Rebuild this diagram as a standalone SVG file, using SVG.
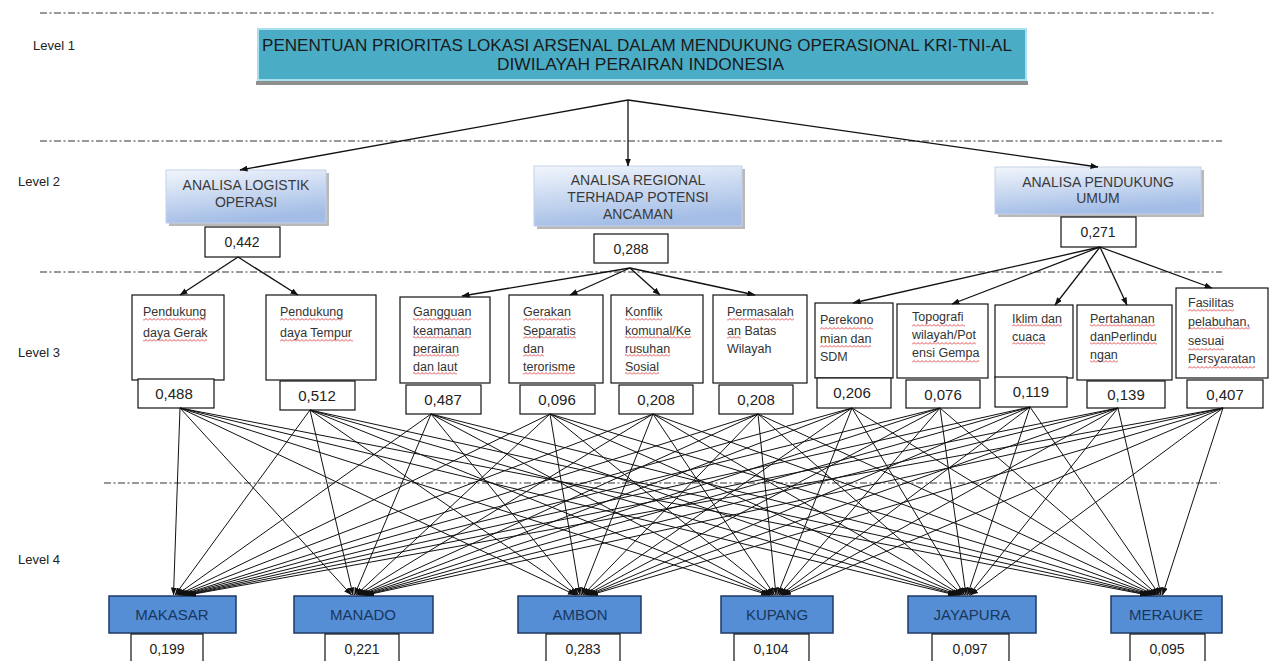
<svg xmlns="http://www.w3.org/2000/svg" width="1275" height="661" viewBox="0 0 1275 661">
<style>
.bg{fill:#ffffff}
.dash{stroke:#333;stroke-width:1;stroke-dasharray:7 2.5 2 2.5;fill:none}
.lvl{font-family:"Liberation Sans",Arial,sans-serif;font-size:13px;fill:#222}
.top{font-family:"Liberation Sans",Arial,sans-serif;font-size:16.5px;fill:#1a1a1a}
.l2box{fill:url(#g2);stroke:#c3d2ea;stroke-width:1}
.l2sh{fill:#b9b9b9}
.l2t{font-family:"Liberation Sans",Arial,sans-serif;font-size:14px;fill:#3a3a3a;text-anchor:middle}
.vbox{fill:#fff;stroke:#111;stroke-width:1.2}
.vt{font-family:"Liberation Sans",Arial,sans-serif;font-size:15px;fill:#222;text-anchor:middle}
.l3box{fill:#fff;stroke:#111;stroke-width:1.2}
.l3t{font-family:"Liberation Sans",Arial,sans-serif;font-size:12.5px;fill:#333}
.sq{fill:url(#sqp)}
.l4box{fill:#558ed5;stroke:#1f3864;stroke-width:1.5}
.l4t{font-family:"Liberation Sans",Arial,sans-serif;font-size:15px;fill:#17375e;text-anchor:middle}
.l4v{font-family:"Liberation Sans",Arial,sans-serif;font-size:14px;fill:#222;text-anchor:middle}
.c{stroke:#111;stroke-width:1;fill:none;marker-end:url(#ah)}
.c2{stroke:#111;stroke-width:1.3;fill:none;marker-end:url(#ah)}
</style>
<defs>
<linearGradient id="g2" x1="0" y1="0" x2="0.3" y2="1">
<stop offset="0" stop-color="#f2f6fc"/>
<stop offset="1" stop-color="#a3bde6"/>
</linearGradient>
<pattern id="sqp" width="4" height="3" patternUnits="userSpaceOnUse">
<path d="M0,2.5 L2,0.5 L4,2.5" fill="none" stroke="#d22" stroke-width="0.8"/>
</pattern>
<marker id="ah" markerWidth="8" markerHeight="6" refX="7.5" refY="3" orient="auto" markerUnits="userSpaceOnUse">
<path d="M0,0 L8,3 L0,6 z" fill="#111"/>
</marker>
</defs>
<rect class="bg" x="0" y="0" width="1275" height="661"/>

<g id="dividers">
<line class="dash" x1="40" y1="13" x2="1215" y2="13"/>
<line class="dash" x1="40" y1="141" x2="1222" y2="141"/>
<line class="dash" x1="40" y1="272" x2="1222" y2="272"/>
<line class="dash" x1="104" y1="483" x2="1220" y2="483"/>
</g>

<g id="level-labels">
<text class="lvl" x="33" y="50">Level 1</text>
<text class="lvl" x="18" y="186">Level 2</text>
<text class="lvl" x="18" y="357">Level 3</text>
<text class="lvl" x="18" y="564">Level 4</text>
</g>

<g id="goal">
<rect x="256" y="81" width="772" height="4" fill="#8f8f8f"/>
<rect x="258" y="29" width="768" height="51" fill="#4bacc6" stroke="#a9e0f0" stroke-width="2"/>
<text class="top" x="262" y="51" textLength="750" lengthAdjust="spacingAndGlyphs">PENENTUAN PRIORITAS LOKASI ARSENAL DALAM MENDUKUNG OPERASIONAL KRI-TNI-AL</text>
<text class="top" x="497" y="70" textLength="287" lengthAdjust="spacingAndGlyphs">DIWILAYAH PERAIRAN INDONESIA</text>
</g>

<g id="c-logistik">
<rect class="l2sh" x="169" y="173" width="160" height="53"/>
<rect class="l2box" x="166" y="170" width="160" height="53"/>
<text class="l2t" x="246" y="190">ANALISA LOGISTIK</text>
<text class="l2t" x="246" y="207">OPERASI</text>
<rect class="vbox" x="205" y="227" width="75" height="30"/>
<text class="vt" x="242" y="247" style="font-size:14px">0,442</text>
</g>

<g id="c-regional">
<rect class="l2sh" x="537" y="169" width="208" height="60"/>
<rect class="l2box" x="534" y="166" width="208" height="60"/>
<text class="l2t" x="638" y="185">ANALISA REGIONAL</text>
<text class="l2t" x="638" y="202">TERHADAP POTENSI</text>
<text class="l2t" x="638" y="219">ANCAMAN</text>
<rect class="vbox" x="594" y="234" width="74" height="29"/>
<text class="vt" x="631" y="254" style="font-size:14px">0,288</text>
</g>

<g id="c-pendukung">
<rect class="l2sh" x="998" y="170" width="206" height="47"/>
<rect class="l2box" x="995" y="167" width="206" height="47"/>
<text class="l2t" x="1098" y="187">ANALISA PENDUKUNG</text>
<text class="l2t" x="1098" y="203">UMUM</text>
<rect class="vbox" x="1061" y="217" width="75" height="30"/>
<text class="vt" x="1098" y="237" style="font-size:14px">0,271</text>
</g>

<g id="s1">
<rect class="l3box" x="132" y="295" width="92" height="85"/>
<rect class="sq" x="143" y="318" width="63" height="3"/>
<rect class="sq" x="143" y="339" width="64" height="3"/>
<text class="l3t" x="143" y="316">Pendukung</text>
<text class="l3t" x="143" y="337">daya Gerak</text>
<rect class="vbox" x="138" y="379" width="76" height="29"/>
<text class="vt" x="174" y="399">0,488</text>
</g>

<g id="s2">
<rect class="l3box" x="266" y="295" width="110" height="85"/>
<rect class="sq" x="280" y="318" width="63" height="3"/>
<rect class="sq" x="280" y="339" width="73" height="3"/>
<text class="l3t" x="280" y="316">Pendukung</text>
<text class="l3t" x="280" y="337">daya Tempur</text>
<rect class="vbox" x="280" y="381" width="75" height="29"/>
<text class="vt" x="317" y="401">0,512</text>
</g>

<g id="s3">
<rect class="l3box" x="400" y="297" width="90" height="86"/>
<rect class="sq" x="413" y="318" width="58" height="3"/>
<rect class="sq" x="413" y="336" width="58" height="3"/>
<rect class="sq" x="413" y="354" width="46" height="3"/>
<rect class="sq" x="413" y="372" width="44" height="3"/>
<text class="l3t" x="413" y="316">Gangguan</text>
<text class="l3t" x="413" y="335">keamanan</text>
<text class="l3t" x="413" y="353">perairan</text>
<text class="l3t" x="413" y="371">dan laut</text>
<rect class="vbox" x="406" y="385" width="75" height="29"/>
<text class="vt" x="443" y="405">0,487</text>
</g>

<g id="s4">
<rect class="l3box" x="509" y="295" width="94" height="88"/>
<rect class="sq" x="523" y="318" width="48" height="3"/>
<rect class="sq" x="523" y="336" width="53" height="3"/>
<rect class="sq" x="523" y="354" width="21" height="3"/>
<rect class="sq" x="523" y="372" width="52" height="3"/>
<text class="l3t" x="523" y="316">Gerakan</text>
<text class="l3t" x="523" y="335">Separatis</text>
<text class="l3t" x="523" y="353">dan</text>
<text class="l3t" x="523" y="371">terorisme</text>
<rect class="vbox" x="520" y="385" width="75" height="29"/>
<text class="vt" x="557" y="405">0,096</text>
</g>

<g id="s5">
<rect class="l3box" x="611" y="295" width="92" height="88"/>
<rect class="sq" x="625" y="318" width="37" height="3"/>
<rect class="sq" x="625" y="336" width="66" height="3"/>
<rect class="sq" x="625" y="354" width="45" height="3"/>
<rect class="sq" x="625" y="372" width="34" height="3"/>
<text class="l3t" x="625" y="316">Konflik</text>
<text class="l3t" x="625" y="335">komunal/Ke</text>
<text class="l3t" x="625" y="353">rusuhan</text>
<text class="l3t" x="625" y="371">Sosial</text>
<rect class="vbox" x="619" y="385" width="74" height="29"/>
<text class="vt" x="656" y="405">0,208</text>
</g>

<g id="s6">
<rect class="l3box" x="713" y="295" width="94" height="88"/>
<rect class="sq" x="727" y="318" width="67" height="3"/>
<rect class="sq" x="727" y="336" width="14" height="3"/>
<text class="l3t" x="727" y="316">Permasalah</text>
<text class="l3t" x="727" y="335">an Batas</text>
<text class="l3t" x="727" y="353">Wilayah</text>
<rect class="vbox" x="719" y="385" width="74" height="29"/>
<text class="vt" x="756" y="405">0,208</text>
</g>

<g id="s7">
<rect class="l3box" x="815" y="303" width="78" height="75"/>
<rect class="sq" x="820" y="327" width="53" height="3"/>
<rect class="sq" x="820" y="345" width="51" height="3"/>
<text class="l3t" x="820" y="324">Perekono</text>
<text class="l3t" x="820" y="343">mian dan</text>
<text class="l3t" x="820" y="361">SDM</text>
<rect class="vbox" x="817" y="378" width="74" height="30"/>
<text class="vt" x="852" y="398">0,206</text>
</g>

<g id="s8">
<rect class="l3box" x="897" y="304" width="91" height="74"/>
<rect class="sq" x="912" y="324" width="53" height="3"/>
<rect class="sq" x="912" y="342" width="64" height="3"/>
<rect class="sq" x="912" y="360" width="67" height="3"/>
<text class="l3t" x="912" y="321">Topografi</text>
<text class="l3t" x="912" y="339">wilayah/Pot</text>
<text class="l3t" x="912" y="357">ensi Gempa</text>
<rect class="vbox" x="906" y="380" width="74" height="28"/>
<text class="vt" x="943" y="400">0,076</text>
</g>

<g id="s9">
<rect class="l3box" x="995" y="305" width="78" height="73"/>
<rect class="sq" x="1012" y="324" width="50" height="3"/>
<rect class="sq" x="1012" y="342" width="33" height="3"/>
<text class="l3t" x="1012" y="323">Iklim dan</text>
<text class="l3t" x="1012" y="341">cuaca</text>
<rect class="vbox" x="995" y="377" width="72" height="30"/>
<text class="vt" x="1031" y="397">0,119</text>
</g>

<g id="s10">
<rect class="l3box" x="1077" y="305" width="95" height="75"/>
<rect class="sq" x="1090" y="324" width="65" height="3"/>
<rect class="sq" x="1090" y="342" width="67" height="3"/>
<rect class="sq" x="1090" y="360" width="28" height="3"/>
<text class="l3t" x="1090" y="323">Pertahanan</text>
<text class="l3t" x="1090" y="341">danPerlindu</text>
<text class="l3t" x="1090" y="359">ngan</text>
<rect class="vbox" x="1087" y="381" width="78" height="27"/>
<text class="vt" x="1126" y="400">0,139</text>
</g>

<g id="s11">
<rect class="l3box" x="1176" y="288" width="92" height="90"/>
<rect class="sq" x="1188" y="309" width="46" height="3"/>
<rect class="sq" x="1188" y="327" width="62" height="3"/>
<rect class="sq" x="1188" y="348" width="36" height="3"/>
<rect class="sq" x="1188" y="366" width="67" height="3"/>
<text class="l3t" x="1188" y="307">Fasilitas</text>
<text class="l3t" x="1188" y="326">pelabuhan,</text>
<text class="l3t" x="1188" y="345">sesuai</text>
<text class="l3t" x="1188" y="363">Persyaratan</text>
<rect class="vbox" x="1187" y="380" width="76" height="28"/>
<text class="vt" x="1225" y="400">0,407</text>
</g>

<g id="a-makasar">
<rect class="l4box" x="109" y="596" width="127" height="37"/>
<text class="l4t" x="172" y="620">MAKASAR</text>
<rect class="vbox" x="131" y="634" width="72" height="30"/>
<text class="l4v" x="167" y="654">0,199</text>
</g>
<g id="a-manado">
<rect class="l4box" x="294" y="596" width="139" height="37"/>
<text class="l4t" x="363" y="620">MANADO</text>
<rect class="vbox" x="325" y="634" width="74" height="30"/>
<text class="l4v" x="362" y="654">0,221</text>
</g>
<g id="a-ambon">
<rect class="l4box" x="518" y="596" width="123" height="37"/>
<text class="l4t" x="580" y="620">AMBON</text>
<rect class="vbox" x="546" y="634" width="74" height="30"/>
<text class="l4v" x="583" y="654">0,283</text>
</g>
<g id="a-kupang">
<rect class="l4box" x="721" y="596" width="112" height="37"/>
<text class="l4t" x="777" y="620">KUPANG</text>
<rect class="vbox" x="734" y="634" width="75" height="30"/>
<text class="l4v" x="771" y="654">0,104</text>
</g>
<g id="a-jayapura">
<rect class="l4box" x="908" y="596" width="128" height="37"/>
<text class="l4t" x="972" y="620">JAYAPURA</text>
<rect class="vbox" x="932" y="634" width="77" height="30"/>
<text class="l4v" x="970" y="654">0,097</text>
</g>
<g id="a-merauke">
<rect class="l4box" x="1111" y="596" width="111" height="37"/>
<text class="l4t" x="1166" y="620">MERAUKE</text>
<rect class="vbox" x="1130" y="634" width="75" height="30"/>
<text class="l4v" x="1167" y="654">0,095</text>
</g>

<g id="connectors">
<line class="c2" x1="628" y1="100" x2="240" y2="170"/>
<line class="c2" x1="628" y1="100" x2="628" y2="166"/>
<line class="c2" x1="628" y1="100" x2="1098" y2="167"/>

<line class="c2" x1="238" y1="257" x2="180" y2="295"/>
<line class="c2" x1="238" y1="257" x2="298" y2="295"/>

<line class="c2" x1="630" y1="268" x2="462" y2="296"/>
<line class="c2" x1="630" y1="268" x2="570" y2="295"/>
<line class="c2" x1="630" y1="268" x2="660" y2="295"/>
<line class="c2" x1="630" y1="268" x2="755" y2="295"/>

<line class="c2" x1="1100" y1="247" x2="853" y2="303"/>
<line class="c2" x1="1100" y1="247" x2="952" y2="304"/>
<line class="c2" x1="1100" y1="247" x2="1055" y2="305"/>
<line class="c2" x1="1100" y1="247" x2="1127" y2="305"/>
<line class="c2" x1="1100" y1="247" x2="1212" y2="288"/>

<line class="c" x1="180" y1="408" x2="173.5" y2="595"/>
<line class="c" x1="180" y1="408" x2="351.5" y2="595"/>
<line class="c" x1="180" y1="408" x2="575.5" y2="595"/>
<line class="c" x1="180" y1="408" x2="768.5" y2="595"/>
<line class="c" x1="180" y1="408" x2="955.5" y2="595"/>
<line class="c" x1="180" y1="408" x2="1147.5" y2="595"/>

<line class="c" x1="310" y1="410" x2="175" y2="595"/>
<line class="c" x1="310" y1="410" x2="353" y2="595"/>
<line class="c" x1="310" y1="410" x2="577" y2="595"/>
<line class="c" x1="310" y1="410" x2="770" y2="595"/>
<line class="c" x1="310" y1="410" x2="957" y2="595"/>
<line class="c" x1="310" y1="410" x2="1149" y2="595"/>

<line class="c" x1="431" y1="414" x2="176.5" y2="595"/>
<line class="c" x1="431" y1="414" x2="354.5" y2="595"/>
<line class="c" x1="431" y1="414" x2="578.5" y2="595"/>
<line class="c" x1="431" y1="414" x2="771.5" y2="595"/>
<line class="c" x1="431" y1="414" x2="958.5" y2="595"/>
<line class="c" x1="431" y1="414" x2="1150.5" y2="595"/>

<line class="c" x1="550" y1="414" x2="178" y2="595"/>
<line class="c" x1="550" y1="414" x2="356" y2="595"/>
<line class="c" x1="550" y1="414" x2="580" y2="595"/>
<line class="c" x1="550" y1="414" x2="773" y2="595"/>
<line class="c" x1="550" y1="414" x2="960" y2="595"/>
<line class="c" x1="550" y1="414" x2="1152" y2="595"/>

<line class="c" x1="653" y1="414" x2="179.5" y2="595"/>
<line class="c" x1="653" y1="414" x2="357.5" y2="595"/>
<line class="c" x1="653" y1="414" x2="581.5" y2="595"/>
<line class="c" x1="653" y1="414" x2="774.5" y2="595"/>
<line class="c" x1="653" y1="414" x2="961.5" y2="595"/>
<line class="c" x1="653" y1="414" x2="1153.5" y2="595"/>

<line class="c" x1="758" y1="414" x2="181" y2="595"/>
<line class="c" x1="758" y1="414" x2="359" y2="595"/>
<line class="c" x1="758" y1="414" x2="583" y2="595"/>
<line class="c" x1="758" y1="414" x2="776" y2="595"/>
<line class="c" x1="758" y1="414" x2="963" y2="595"/>
<line class="c" x1="758" y1="414" x2="1155" y2="595"/>

<line class="c" x1="852" y1="408" x2="182.5" y2="595"/>
<line class="c" x1="852" y1="408" x2="360.5" y2="595"/>
<line class="c" x1="852" y1="408" x2="584.5" y2="595"/>
<line class="c" x1="852" y1="408" x2="777.5" y2="595"/>
<line class="c" x1="852" y1="408" x2="964.5" y2="595"/>
<line class="c" x1="852" y1="408" x2="1156.5" y2="595"/>

<line class="c" x1="940" y1="408" x2="184" y2="595"/>
<line class="c" x1="940" y1="408" x2="362" y2="595"/>
<line class="c" x1="940" y1="408" x2="586" y2="595"/>
<line class="c" x1="940" y1="408" x2="779" y2="595"/>
<line class="c" x1="940" y1="408" x2="966" y2="595"/>
<line class="c" x1="940" y1="408" x2="1158" y2="595"/>

<line class="c" x1="1030" y1="407" x2="185.5" y2="595"/>
<line class="c" x1="1030" y1="407" x2="363.5" y2="595"/>
<line class="c" x1="1030" y1="407" x2="587.5" y2="595"/>
<line class="c" x1="1030" y1="407" x2="780.5" y2="595"/>
<line class="c" x1="1030" y1="407" x2="967.5" y2="595"/>
<line class="c" x1="1030" y1="407" x2="1159.5" y2="595"/>

<line class="c" x1="1118" y1="408" x2="187" y2="595"/>
<line class="c" x1="1118" y1="408" x2="365" y2="595"/>
<line class="c" x1="1118" y1="408" x2="589" y2="595"/>
<line class="c" x1="1118" y1="408" x2="782" y2="595"/>
<line class="c" x1="1118" y1="408" x2="969" y2="595"/>
<line class="c" x1="1118" y1="408" x2="1161" y2="595"/>

<line class="c" x1="1223" y1="408" x2="188.5" y2="595"/>
<line class="c" x1="1223" y1="408" x2="366.5" y2="595"/>
<line class="c" x1="1223" y1="408" x2="590.5" y2="595"/>
<line class="c" x1="1223" y1="408" x2="783.5" y2="595"/>
<line class="c" x1="1223" y1="408" x2="970.5" y2="595"/>
<line class="c" x1="1223" y1="408" x2="1162.5" y2="595"/>
</g>
</svg>
